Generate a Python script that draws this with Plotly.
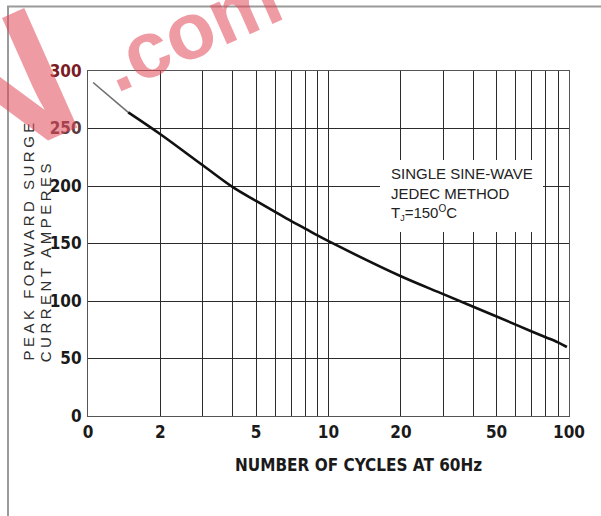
import plotly.graph_objects as go

# ---- data ----
cycles_lead = [1.05, 1.47]
surge_lead = [290, 264]
cycles = [1.47, 2, 3, 4, 5, 6, 7, 8, 9, 10, 20, 30, 40, 50, 60, 70, 80, 90, 98]
surge = [264, 245, 218, 199, 187, 177.5, 169.5, 163, 157, 152, 121.5, 106, 95, 86.5, 79.5, 73.5, 68.5, 64, 60]

x_grid = [1, 2, 3, 4, 5, 6, 7, 8, 9, 10, 20, 30, 40, 50, 60, 70, 80, 90, 100]
x_labels = ["0", "2", "", "", "5", "", "", "", "", "10", "20", "", "", "50", "", "", "", "", "100"]
y_ticks = [0, 50, 100, 150, 200, 250, 300]
y_labels = ["0", "50", "100", "150", "200",
            "<span style='color:#5a3a40'>250</span>",
            "<span style='color:#7a1c24'>300</span>"]

W, H = 601, 516
L, R, T, B = 88, 569, 71, 416


def px(xp):
    return (xp - L) / (R - L)


def py(yp):
    return (B - yp) / (B - T)


narrow = "DejaVu Sans Condensed, Liberation Sans Narrow, Arial Narrow, Liberation Sans, Arial"
tick_font = dict(family=narrow, size=17, color="#1a1a1a", weight="bold")

fig = go.Figure()
fig.add_trace(go.Scatter(x=cycles_lead, y=surge_lead, mode="lines",
                         line=dict(color="#6e6e6e", width=1.6), showlegend=False))
fig.add_trace(go.Scatter(x=cycles, y=surge, mode="lines", line_shape="spline",
                         line=dict(color="#111111", width=2.6), showlegend=False))

fig.update_layout(
    width=W, height=H,
    margin=dict(l=L, r=W - R, t=T, b=H - B, pad=0),
    paper_bgcolor="white", plot_bgcolor="white",
    showlegend=False,
    xaxis=dict(type="log", range=[0, 2], tickvals=x_grid, ticktext=x_labels,
               showgrid=True, gridcolor="#2b2b2b", gridwidth=1,
               showline=True, linecolor="#555555", linewidth=1, mirror=True,
               ticks="", tickfont=tick_font, ticklabelstandoff=1, zeroline=False),
    yaxis=dict(range=[0, 300], tickvals=y_ticks, ticktext=y_labels,
               showgrid=True, gridcolor="#2b2b2b", gridwidth=1,
               showline=True, linecolor="#555555", linewidth=1, mirror=True,
               ticks="", tickfont=tick_font, ticklabelstandoff=2, zeroline=False),
)

# page border (grey) top and left
fig.add_shape(type="path", xref="paper", yref="paper",
              path="M {a},{b} L {a},{c} L {d},{c}".format(a=px(8), b=py(530), c=py(6.5), d=px(610)),
              line=dict(color="#9a9a9a", width=2))

# white box behind the condition text
fig.add_shape(type="rect", xref="paper", yref="paper", x0=px(380), x1=px(543), y0=py(232), y1=py(160),
              fillcolor="white", line=dict(width=0), layer="above")

fig.add_annotation(xref="paper", yref="paper", x=px(389), y=py(194), xanchor="left", yanchor="middle",
                   align="left", showarrow=False,
                   text="SINGLE SINE-WAVE<br>JEDEC METHOD<br>T<sub><span style='font-size:9px'>J</span></sub>=150"
                        "<sup><span style='font-size:10px'>O</span></sup>C",
                   font=dict(family="Liberation Sans, Arial", size=15, color="#222222"))

# axis titles
fig.add_annotation(xref="paper", yref="paper", x=px(358), y=py(465), xanchor="center", yanchor="middle",
                   showarrow=False, text="NUMBER OF CYCLES AT 60Hz",
                   font=dict(family=narrow, size=17, color="#1a1a1a", weight="bold"))
ytitle_font = dict(family="Liberation Sans, Arial", size=15, color="#2e2e2e")
fig.add_annotation(xref="paper", yref="paper", x=px(28), y=py(240), xanchor="center", yanchor="middle",
                   textangle=-90, showarrow=False, text="PEAK FORWARD SURGE", font=ytitle_font)
fig.add_annotation(xref="paper", yref="paper", x=px(45), y=py(261), xanchor="center", yanchor="middle",
                   textangle=-90, showarrow=False, text="CURRENT AMPERES", font=ytitle_font)

# watermark
wm = "rgba(226,72,90,0.55)"
fig.add_annotation(xref="paper", yref="paper", x=px(-1), y=py(90), xanchor="center", yanchor="middle",
                   textangle=-24, showarrow=False, text="N",
                   font=dict(family="Liberation Sans, Arial", size=190, color=wm, weight="bold"))
fig.add_annotation(xref="paper", yref="paper", x=px(190), y=py(30), xanchor="center", yanchor="middle",
                   textangle=-24, showarrow=False, text=".com",
                   font=dict(family="Liberation Sans, Arial", size=80, color=wm, weight="bold"))

post = """
document.body.style.margin = '0';
document.querySelectorAll('.annotation-text').forEach(function(t){
  var s = t.textContent;
  if (s.indexOf('PEAK') === 0 || s.indexOf('CURRENT') === 0) { t.style.letterSpacing = '3.5px'; }
});
"""
fig.write_html("out.html", post_script=post, config={"displayModeBar": False})
